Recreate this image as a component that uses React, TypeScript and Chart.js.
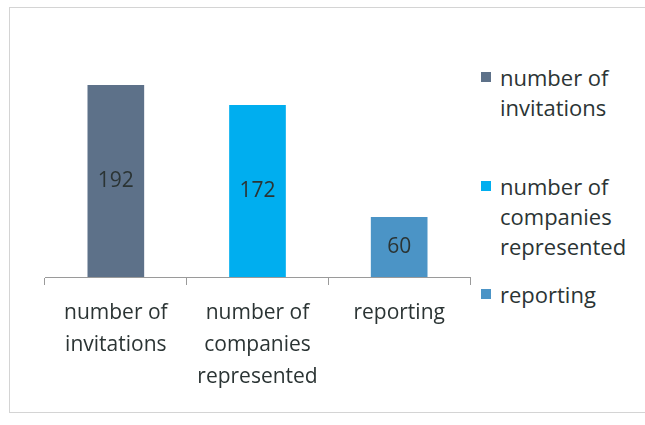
import React, { useEffect, useRef } from "react";
import { Chart, registerables } from "chart.js";

Chart.register(...registerables);

const categories: string[][] = [
  ["number of", "invitations"],
  ["number of", "companies", "represented"],
  ["reporting"],
];
const values: number[] = [192, 172, 60];
const colors: string[] = ["#5d7189", "#00aeef", "#4b94c6"];
const legendTops: number[] = [62, 171, 279];

const FONT = "'Open Sans', Lato, sans-serif";
const TEXT = "#2b3434";

const valueLabels = {
  id: "valueLabels",
  afterDatasetsDraw(chart: any) {
    const ctx = chart.ctx;
    const meta = chart.getDatasetMeta(0);
    ctx.save();
    ctx.font = `21px ${FONT}`;
    ctx.fillStyle = TEXT;
    ctx.textAlign = "center";
    ctx.textBaseline = "middle";
    meta.data.forEach((bar: any, i: number) => {
      const mid = (bar.y + bar.base) / 2;
      ctx.fillText(String(values[i]), bar.x, mid);
    });
    ctx.restore();
  },
};

export default function App() {
  const ref = useRef<HTMLCanvasElement>(null);
  useEffect(() => {
    if (!ref.current) return;
    const chart = new Chart(ref.current, {
      type: "bar",
      data: {
        labels: categories,
        datasets: [
          {
            data: values,
            backgroundColor: colors,
            borderWidth: 0,
            barPercentage: 0.4,
            categoryPercentage: 1,
          },
        ],
      },
      options: {
        animation: false,
        responsive: false,
        maintainAspectRatio: false,
        layout: { padding: { left: 45, right: 10, top: 27, bottom: 0 } },
        plugins: { legend: { display: false }, tooltip: { enabled: false } },
        scales: {
          y: { display: false, min: 0, max: 250 },
          x: {
            afterFit(scale: any) {
              scale.height = 148;
            },
            border: { display: true, color: "#9a9a9a", width: 1 },
            grid: {
              display: true,
              drawOnChartArea: false,
              drawTicks: true,
              tickLength: 8,
              color: "#9a9a9a",
              offset: true,
            },
            ticks: {
              color: TEXT,
              padding: 12,
              maxRotation: 0,
              autoSkip: false,
              font: { family: FONT, size: 21, lineHeight: "32px" },
            },
          },
        },
      },
      plugins: [valueLabels],
    });
    return () => chart.destroy();
  }, []);

  const legendTexts = categories;
  return (
    <div style={{ position: "absolute", left: 0, top: 0, width: 645, height: 425, background: "#fff", overflow: "hidden" }}>
      <div
        style={{
          position: "absolute",
          left: 9,
          top: 7,
          width: 645,
          height: 406,
          border: "1px solid #d4d4d4",
          boxSizing: "border-box",
        }}
      />
      <canvas ref={ref} width={480} height={425} style={{ position: "absolute", left: 0, top: 0 }} />
      {legendTexts.map((lines, i) => (
        <div
          key={i}
          style={{
            position: "absolute",
            left: 481,
            top: legendTops[i],
            fontFamily: FONT,
            fontSize: 22,
            lineHeight: "30px",
            color: TEXT,
          }}
        >
          <span
            style={{
              position: "absolute",
              left: 0,
              top: 10,
              width: 10,
              height: 10,
              background: colors[i],
            }}
          />
          <div style={{ marginLeft: 19 }}>
            {lines.map((l, j) => (
              <div key={j} style={{ whiteSpace: "nowrap" }}>{l}</div>
            ))}
          </div>
        </div>
      ))}
    </div>
  );
}
